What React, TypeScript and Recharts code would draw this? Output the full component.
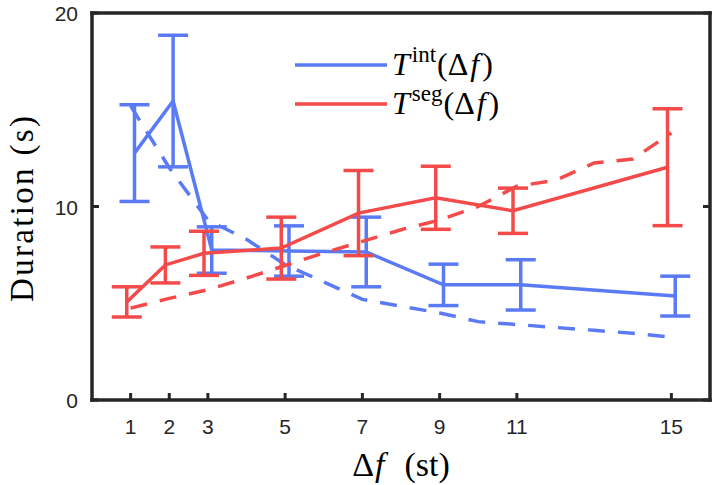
import { LineChart, Line, XAxis, YAxis, ErrorBar, Legend } from 'recharts';

const BLUE = '#5a7bf5';
const RED = '#f44a4a';
const INK = '#262626';
const SANS = '"Liberation Sans", Arial, Helvetica, sans-serif';
const SERIF = '"Liberation Serif", "Times New Roman", serif';

// semitone separations (measured points) and axis ticks
const dfTicks = [1, 2, 3, 5, 7, 9, 11, 15];
const durationTicks = [0, 10, 20];

// integration duration, mean and error
const intMean = [12.76, 15.45, 7.75, 7.7, 7.65, 5.95, 5.95, 5.37];
const intErr = [2.5, 3.4, 1.2, 1.3, 1.8, 1.07, 1.3, 1.03];

// segregation duration, mean and error
const segMean = [5.07, 6.98, 7.58, 7.85, 9.66, 10.45, 9.78, 12.03];
const segErr = [0.78, 0.93, 1.14, 1.6, 2.2, 1.63, 1.17, 3.02];

// model curves (dashed)
const modelDf = [1, 2, 3, 4, 5, 6, 7, 8, 9, 10, 11, 12, 13, 14, 15];
const intModel = [15.2, 12.0, 9.3, 8.3, 7.0, 6.1, 5.2, 4.85, 4.5, 4.05, 3.9, 3.75, 3.6, 3.45, 3.25];
const segModel = [4.75, 5.25, 5.7, 6.3, 6.95, 7.6, 8.2, 8.8, 9.3, 10.0, 11.05, 11.35, 12.25, 12.45, 13.8];

// the two data series are drawn slightly apart so the error bars don't overlap
const intData = dfTicks.map((df, i) => ({ df: df + 0.1, d: intMean[i], err: intErr[i] }));
const segData = dfTicks.map((df, i) => ({ df: df - 0.1, d: segMean[i], err: segErr[i] }));
const intModelData = modelDf.map((df, i) => ({ df, d: intModel[i] }));
const segModelData = modelDf.map((df, i) => ({ df, d: segModel[i] }));

const TICK = 7;
const axisLine = { stroke: INK, strokeWidth: 3.5, strokeLinecap: 'square' as const };

function BottomTick({ x, y, payload }: any) {
  return (
    <g>
      <line x1={x} y1={y} x2={x} y2={y - TICK} stroke={INK} strokeWidth={3} />
      <text x={x} y={y + 34} textAnchor="middle" fontSize={21} fill={INK} fontFamily={SANS}>
        {payload.value}
      </text>
    </g>
  );
}

function TopTick({ x, y }: any) {
  return <line x1={x} y1={y} x2={x} y2={y + TICK} stroke={INK} strokeWidth={3} />;
}

function LeftTick({ x, y, payload }: any) {
  return (
    <g>
      <line x1={x} y1={y} x2={x + TICK} y2={y} stroke={INK} strokeWidth={3} />
      <text x={x - 14} y={y + 8} textAnchor="end" fontSize={21} fill={INK} fontFamily={SANS}>
        {payload.value}
      </text>
    </g>
  );
}

function RightTick({ x, y }: any) {
  return <line x1={x} y1={y} x2={x - TICK} y2={y} stroke={INK} strokeWidth={3} />;
}

function LegendBox() {
  const entry = (color: string, sup: string, y: number) => (
    <g>
      <line x1={5} y1={y} x2={97} y2={y} stroke={color} strokeWidth={3.5} />
      <text x={102} y={y + 10} fontSize={32} fill="#000" fontFamily={SERIF}>
        <tspan fontStyle="italic">T</tspan>
        <tspan dx={2} dy={-13} fontSize={23}>{sup}</tspan>
        <tspan dx={1} dy={13}>(Δ</tspan>
        <tspan dx={2} fontStyle="italic">f</tspan>
        <tspan dx={3}>)</tspan>
      </text>
    </g>
  );
  return (
    <svg width={240} height={90}>
      {entry(BLUE, 'int', 29)}
      {entry(RED, 'seg', 68)}
    </svg>
  );
}

export default function App() {
  return (
    <div style={{ position: 'absolute', left: 0, top: 0, background: '#fff' }}>
      <LineChart width={718} height={485} margin={{ top: 12, right: 7, bottom: 84, left: 91 }}>
        <XAxis
          xAxisId="bottom"
          dataKey="df"
          type="number"
          domain={[0, 16]}
          ticks={dfTicks}
          interval={0}
          height={1}
          tickSize={0}
          tickMargin={0}
          tickLine={false}
          axisLine={axisLine}
          tick={<BottomTick />}
          allowDataOverflow
          label={{
            content: () => (
              <text x={401} y={476} textAnchor="middle" fontSize={34} fill="#000" fontFamily={SERIF}>
                Δ<tspan dx={1} fontStyle="italic">f</tspan>
                <tspan dx={20}>(st)</tspan>
              </text>
            ),
          }}
        />
        <XAxis
          xAxisId="top"
          orientation="top"
          type="number"
          domain={[0, 16]}
          ticks={dfTicks}
          interval={0}
          height={1}
          tickSize={0}
          tickMargin={0}
          tickLine={false}
          axisLine={axisLine}
          tick={<TopTick />}
          allowDataOverflow
        />
        <YAxis
          yAxisId="left"
          type="number"
          domain={[0, 20]}
          ticks={durationTicks}
          interval={0}
          width={1}
          tickSize={0}
          tickMargin={0}
          tickLine={false}
          axisLine={axisLine}
          tick={<LeftTick />}
          allowDataOverflow
          label={{
            content: () => (
              <text
                transform="translate(33,209) rotate(-90)"
                textAnchor="middle"
                fontSize={33}
                fill="#000"
                fontFamily={SERIF}
                textLength={186}
                lengthAdjust="spacing"
              >
                Duration (s)
              </text>
            ),
          }}
        />
        <YAxis
          yAxisId="right"
          orientation="right"
          type="number"
          domain={[0, 20]}
          ticks={durationTicks}
          interval={0}
          width={1}
          tickSize={0}
          tickMargin={0}
          tickLine={false}
          axisLine={axisLine}
          tick={<RightTick />}
          allowDataOverflow
        />

        <Line
          xAxisId="bottom"
          yAxisId="left"
          data={intModelData}
          dataKey="d"
          stroke={BLUE}
          strokeWidth={3.5}
          strokeDasharray="17 13"
          dot={false}
          activeDot={false}
          isAnimationActive={false}
        />
        <Line
          xAxisId="bottom"
          yAxisId="left"
          data={intData}
          dataKey="d"
          stroke={BLUE}
          strokeWidth={3.5}
          dot={false}
          activeDot={false}
          isAnimationActive={false}
        >
          <ErrorBar dataKey="err" direction="y" width={15} stroke={BLUE} strokeWidth={3.5} isAnimationActive={false} />
        </Line>
        <Line
          xAxisId="bottom"
          yAxisId="left"
          data={segModelData}
          dataKey="d"
          stroke={RED}
          strokeWidth={3.5}
          strokeDasharray="17 13"
          dot={false}
          activeDot={false}
          isAnimationActive={false}
        />
        <Line
          xAxisId="bottom"
          yAxisId="left"
          data={segData}
          dataKey="d"
          stroke={RED}
          strokeWidth={3.5}
          dot={false}
          activeDot={false}
          isAnimationActive={false}
        >
          <ErrorBar dataKey="err" direction="y" width={15} stroke={RED} strokeWidth={3.5} isAnimationActive={false} />
        </Line>

        <Legend
          layout="vertical"
          align="center"
          verticalAlign="middle"
          content={() => <LegendBox />}
          wrapperStyle={{ left: 290, top: 36, width: 240, height: 90 }}
        />
      </LineChart>
    </div>
  );
}
